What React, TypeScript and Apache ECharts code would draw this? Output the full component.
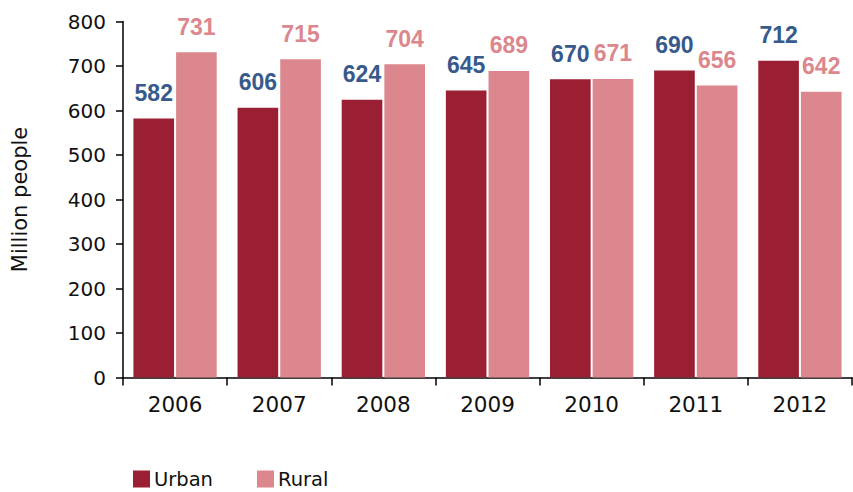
import React, { useEffect, useRef } from "react";
import * as echarts from "echarts";

const years = ["2006", "2007", "2008", "2009", "2010", "2011", "2012"];
const urban = [582, 606, 624, 645, 670, 690, 712];
const rural = [731, 715, 704, 689, 671, 656, 642];

const URBAN_COLOR = "#9B1F32";
const RURAL_COLOR = "#DB878D";
const URBAN_LABEL = "#375A8C";
const FONT = "'DejaVu Sans', sans-serif";
const BOLD_FONT = "'Liberation Sans', Arial, sans-serif";

export default function App() {
  const ref = useRef<HTMLDivElement>(null);
  useEffect(() => {
    if (!ref.current) return;
    const chart = echarts.init(ref.current, undefined, { renderer: "svg" });
    chart.setOption({
      animation: false,
      textStyle: { fontFamily: FONT },
      grid: { left: 123, right: 1, top: 21.5, bottom: 114.5, containLabel: false },
      legend: {
        left: 128,
        top: 464,
        icon: "rect",
        itemWidth: 17,
        itemHeight: 17,
        itemGap: 44,
        textStyle: { fontSize: 19.5, color: "#111", fontFamily: FONT, padding: [0, 0, 0, -1] },
        data: ["Urban", "Rural"],
      },
      xAxis: {
        type: "category",
        data: years,
        axisLine: { lineStyle: { color: "#000", width: 1.5 } },
        axisTick: { show: true, length: 8, lineStyle: { color: "#000", width: 1.5 } },
        axisLabel: { color: "#111", fontSize: 21.5, margin: 16, fontFamily: FONT },
      },
      yAxis: {
        type: "value",
        min: 0,
        max: 800,
        interval: 100,
        name: "Million people",
        nameLocation: "middle",
        nameGap: 93,
        nameTextStyle: { fontSize: 21, color: "#111", fontFamily: FONT },
        axisLine: { show: true, lineStyle: { color: "#000", width: 1.5 } },
        axisTick: { show: true, length: 7, lineStyle: { color: "#000", width: 1.5 } },
        axisLabel: { color: "#111", fontSize: 20, margin: 17, fontFamily: FONT },
        splitLine: { show: false },
      },
      series: [
        {
          name: "Urban",
          type: "bar",
          data: urban,
          barGap: "5%",
          barCategoryGap: "20%",
          itemStyle: { color: URBAN_COLOR },
          label: {
            show: true,
            position: "top",
            distance: 14,
            color: URBAN_LABEL,
            fontSize: 23,
            fontWeight: "bold",
            fontFamily: BOLD_FONT,
          },
        },
        {
          name: "Rural",
          type: "bar",
          data: rural,
          barGap: "5%",
          barCategoryGap: "20%",
          itemStyle: { color: RURAL_COLOR },
          label: {
            show: true,
            position: "top",
            distance: 14,
            color: RURAL_COLOR,
            fontSize: 23,
            fontWeight: "bold",
            fontFamily: BOLD_FONT,
          },
        },
      ],
    });
    return () => chart.dispose();
  }, []);
  return <div ref={ref} style={{ width: 853, height: 492, position: "absolute", left: 0, top: 0 }} />;
}
